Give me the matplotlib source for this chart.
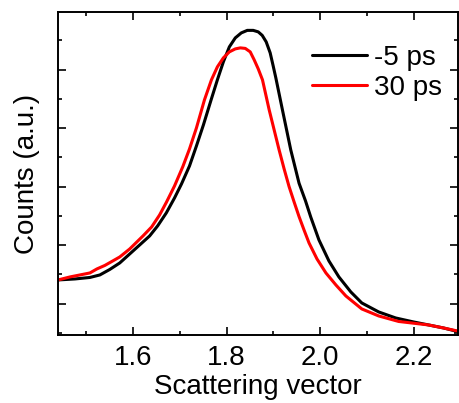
import matplotlib
matplotlib.use("Agg")
import matplotlib.pyplot as plt
from matplotlib.ticker import MultipleLocator, NullFormatter

plt.rcParams['font.family'] = ['Liberation Sans', 'DejaVu Sans']

# scattering vector and counts (a.u.)
q_neg5 = [1.4400, 1.4762, 1.5081, 1.5294, 1.5506, 1.5719, 1.5932, 1.6145, 1.6357, 1.6528,
          1.6713, 1.6889, 1.7038, 1.7209, 1.7357, 1.7506, 1.7670, 1.7804, 1.7932, 1.8060,
          1.8187, 1.8315, 1.8443, 1.8570, 1.8677, 1.8762, 1.8847, 1.8932, 1.8996, 1.9053,
          1.9194, 1.9372, 1.9549, 1.9687, 1.9798, 1.9974, 2.0187, 2.0400, 2.0655, 2.0889,
          2.1251, 2.1613, 2.1996, 2.2315, 2.2634, 2.2932]
counts_neg5 = [0.2812, 0.2846, 0.2897, 0.2983, 0.3171, 0.3393, 0.3701, 0.4009, 0.4316, 0.4659,
               0.5103, 0.5615, 0.6094, 0.6709, 0.7393, 0.8111, 0.8966, 0.9650, 1.0265, 1.0778,
               1.1085, 1.1256, 1.1342, 1.1342, 1.1291, 1.1171, 1.0949, 1.0573, 1.0128, 0.9718,
               0.8624, 0.7256, 0.6118, 0.5513, 0.4966, 0.4179, 0.3462, 0.2915, 0.2402, 0.2026,
               0.1718, 0.1513, 0.1376, 0.1274, 0.1171, 0.1051]

q_30 = [1.4400, 1.4655, 1.4868, 1.5081, 1.5230, 1.5400, 1.5570, 1.5719, 1.5932, 1.6215,
        1.6400, 1.6570, 1.6719, 1.6889, 1.7066, 1.7209, 1.7357, 1.7528, 1.7677, 1.7804,
        1.7932, 1.8060, 1.8187, 1.8294, 1.8400, 1.8506, 1.8591, 1.8677, 1.8768, 1.8911,
        1.9017, 1.9123, 1.9230, 1.9336, 1.9443, 1.9549, 1.9655, 1.9762, 1.9932, 2.0123,
        2.0336, 2.0549, 2.0889, 2.1251, 2.1677, 2.2315, 2.2634, 2.2932]
counts_30 = [0.2812, 0.2915, 0.2983, 0.3051, 0.3188, 0.3308, 0.3462, 0.3598, 0.3872, 0.4316,
             0.4624, 0.5034, 0.5479, 0.6026, 0.6685, 0.7291, 0.8009, 0.8966, 0.9650, 1.0094,
             1.0402, 1.0607, 1.0709, 1.0744, 1.0726, 1.0607, 1.0333, 1.0026, 0.9650, 0.8624,
             0.7940, 0.7256, 0.6607, 0.6002, 0.5479, 0.4976, 0.4521, 0.4077, 0.3530, 0.3051,
             0.2641, 0.2265, 0.1821, 0.1581, 0.1393, 0.1274, 0.1171, 0.1068]

labels = ['-5 ps', '30 ps']

fig = plt.figure(figsize=(4.59, 4.03), dpi=100)
ax = fig.add_axes([0.1264, 0.1687, 0.872, 0.8008])

ax.plot(q_neg5, counts_neg5, color='black', linewidth=2.2, label=labels[0],
        solid_joinstyle='round', solid_capstyle='round')
ax.plot(q_30, counts_30, color='red', linewidth=2.2, label=labels[1],
        solid_joinstyle='round', solid_capstyle='round')

ax.set_xlim(1.44, 2.295)
ax.set_ylim(0.093, 1.196)

ax.xaxis.set_major_locator(MultipleLocator(0.2))
ax.xaxis.set_minor_locator(MultipleLocator(0.1))
ax.yaxis.set_major_locator(MultipleLocator(0.2))
ax.yaxis.set_minor_locator(MultipleLocator(0.1))
ax.yaxis.set_major_formatter(NullFormatter())

ax.tick_params(which='both', direction='in', top=True, right=True, width=1.2)
ax.tick_params(which='major', length=6, labelsize=20, pad=7)
ax.tick_params(which='minor', length=3)
for s in ax.spines.values():
    s.set_linewidth(1.4)

ax.set_xlabel('Scattering vector', fontsize=20, labelpad=2)
ax.set_ylabel('Counts (a.u.)', fontsize=20, labelpad=6)

ax.legend(loc='upper left', bbox_to_anchor=(0.6347, 0.90), frameon=False,
          fontsize=20, handlelength=1.98, handletextpad=0.25, labelspacing=0.15,
          borderpad=0, borderaxespad=0)

fig.savefig('out.png', dpi=100)
